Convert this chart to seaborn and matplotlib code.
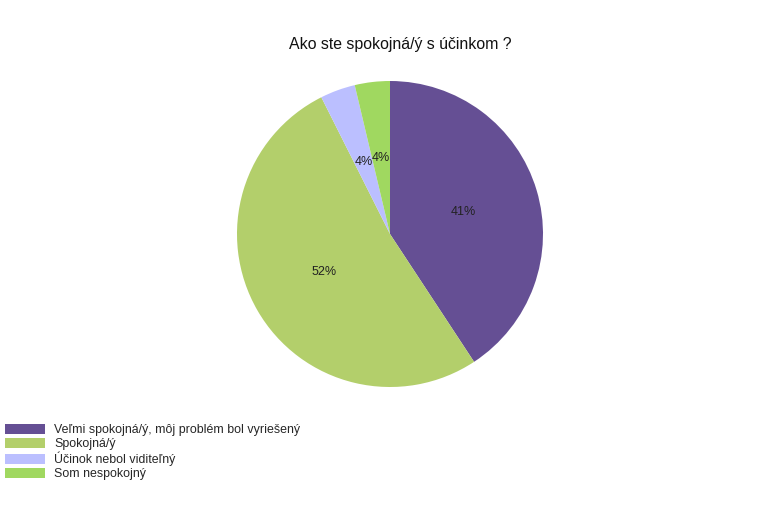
import matplotlib
matplotlib.use("Agg")
import matplotlib.pyplot as plt
import seaborn as sns

categories = ["Veľmi spokojná/ý, môj problém bol vyriešený", "Spokojná/ý",
              "Účinok nebol viditeľný", "Som nespokojný"]
counts = [11, 14, 1, 1]
colors = ["#654F94", "#B3CF6B", "#BBBFFF", "#A0D860"]
title = "Ako ste spokojná/ý s účinkom ?"

sns.set_theme(style="white")
plt.rcParams["font.family"] = ["Liberation Sans", "DejaVu Sans"]

fig = plt.figure(figsize=(7.8, 5.2), dpi=100)
W, H = 780, 520
cx, cy, r = 390, 234, 153
ax = fig.add_axes([(cx - r) / W, (H - cy - r) / H, 2 * r / W, 2 * r / H])
wedges, texts, autotexts = ax.pie(
    counts, colors=colors, startangle=90, counterclock=False,
    autopct=lambda p: f"{p:.0f}%", pctdistance=0.5,
    wedgeprops=dict(linewidth=0), textprops=dict(fontsize=9, color="#222222"),
)
ax.set_xlim(-1, 1)
ax.set_ylim(-1, 1)
ax.set_aspect("equal")
ax.axis("off")

fig.text(400 / W, 1 - 45 / H, title, ha="center", va="center", fontsize=11.4, color="#111111")

leg = fig.legend(wedges, categories, loc="upper left",
                 bbox_to_anchor=(5 / W, 1 - 423.5 / H), frameon=False,
                 fontsize=8.9, handlelength=3.2, handleheight=0.9,
                 handletextpad=0.8, labelspacing=0.13, borderaxespad=0,
                 borderpad=0)

fig.savefig("out.png", dpi=100)
